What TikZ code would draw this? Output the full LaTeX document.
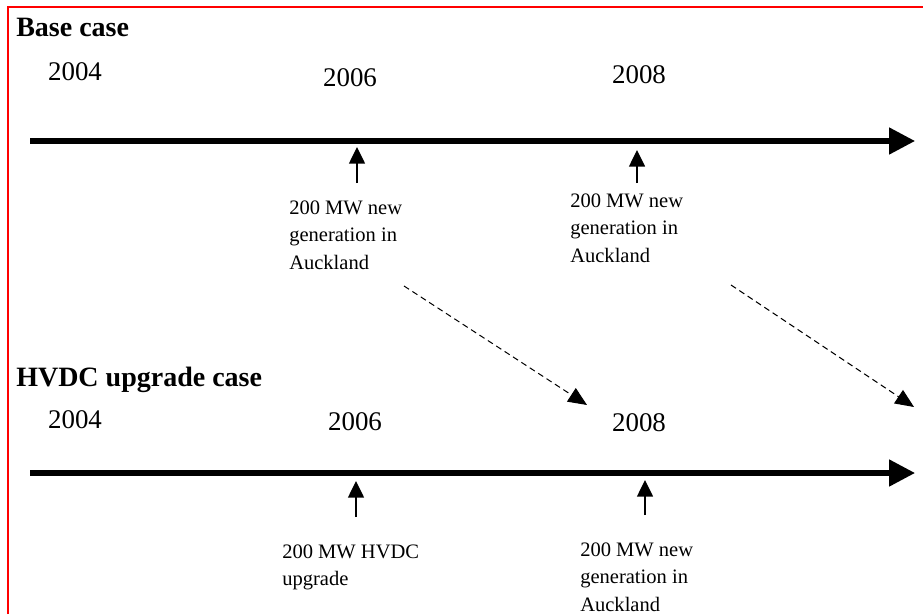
\documentclass[tikz,border=0pt]{standalone}
\usepackage{fontspec}
\setmainfont{Liberation Serif}
\usetikzlibrary{arrows.meta}
\begin{document}
\begin{tikzpicture}[x=0.75pt,y=-0.75pt,line join=miter,
		head/.style={font=\fontsize{21}{24}\selectfont\bfseries,anchor=base west,inner sep=0pt},
		year/.style={font=\fontsize{20.2}{24}\selectfont,inner sep=0pt},
		note/.style={font=\fontsize{15.4}{20.3}\selectfont,align=left,anchor=north west,inner sep=0pt},
		timeline/.style={line width=3.8pt,-{Triangle[length=19.5pt,width=19.5pt]}},
		event/.style={line width=1.1pt,-{Triangle[length=12.5pt,width=12pt]}},
		delay/.style={dashed,dash pattern=on 4.5pt off 3pt,line width=0.75pt,-{Triangle[length=14pt,width=12pt]}}]
	\useasboundingbox (0,0) rectangle (923,614);
	\draw[red,line width=2.2pt] (8,614)--(8,7)--(923,7);
	% Base case
	\node[head] (base) at (16,36) {Base case};
	\foreach \yr/\xx/\yy in {2004/75/72,2006/350/78,2008/639/75}
	\node[year] (top\yr) at (\xx,\yy) {\yr};
	\draw[timeline] (30,141)--(915,141);
	\coordinate (ta) at (357,183); \coordinate (tah) at (357,147);
	\coordinate (tb) at (637,183); \coordinate (tbh) at (637,150);
	\draw[event] (ta)--(tah);
	\draw[event] (tb)--(tbh);
	\node[note] (gen6) at (289,201) {200 MW new\\generation in\\Auckland};
	\node[note] (gen8) at (570,194) {200 MW new\\generation in\\Auckland};
	% HVDC upgrade case
	\node[head] (hvdc) at (16,386) {HVDC upgrade case};
	\foreach \yr/\xx/\yy in {2004/75/420,2006/355/422,2008/639/423}
	\node[year] (bot\yr) at (\xx,\yy) {\yr};
	\draw[timeline] (30,473)--(915,473);
	\coordinate (ba) at (356,517); \coordinate (bah) at (356,481);
	\coordinate (bb) at (645,515); \coordinate (bbh) at (645,480);
	\draw[event] (ba)--(bah);
	\draw[event] (bb)--(bbh);
	\node[note] (up6) at (282,545) {200 MW HVDC\\upgrade};
	\node[note] (gen8b) at (580,543) {200 MW new\\generation in\\Auckland};
	% delay of the generation
	\coordinate (da) at (404,286); \coordinate (dah) at (587,405);
	\coordinate (db) at (731,285); \coordinate (dbh) at (914,407);
	\draw[delay] (da)--(dah);
	\draw[delay] (db)--(dbh);
\end{tikzpicture}
\end{document}
